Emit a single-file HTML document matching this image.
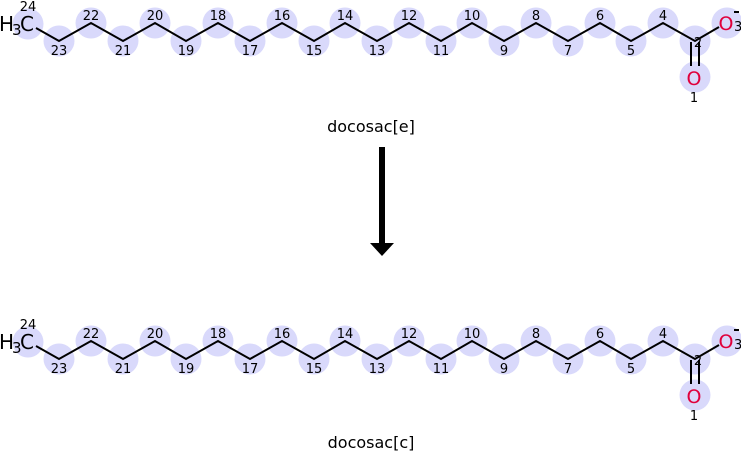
<!DOCTYPE html>
<html><head><meta charset="utf-8"><style>
html,body{margin:0;padding:0;background:#fff;width:741px;height:452px;overflow:hidden}
svg{display:block}
text{font-family:"DejaVu Sans","Liberation Sans",sans-serif}
.c{fill:#d9d9fb}
.n{font-size:13px;fill:#000;text-anchor:middle}
.b{stroke:#000;stroke-width:2;fill:none}
.o{fill:#e0003c;font-size:19px;text-anchor:middle}
</style></head><body>
<svg width="741" height="452" viewBox="0 0 741 452">
<g>
<g class="c">
<circle cx="28" cy="24" r="15.5"/><circle cx="59" cy="41" r="15.5"/><circle cx="91" cy="23" r="15.5"/><circle cx="123" cy="41" r="15.5"/><circle cx="155" cy="23" r="15.5"/><circle cx="186" cy="41" r="15.5"/><circle cx="218" cy="23" r="15.5"/><circle cx="250" cy="41" r="15.5"/><circle cx="282" cy="23" r="15.5"/><circle cx="314" cy="41" r="15.5"/><circle cx="345" cy="23" r="15.5"/><circle cx="377" cy="41" r="15.5"/><circle cx="409" cy="23" r="15.5"/><circle cx="441" cy="41" r="15.5"/><circle cx="472" cy="23" r="15.5"/><circle cx="504" cy="41" r="15.5"/><circle cx="536" cy="23" r="15.5"/><circle cx="568" cy="41" r="15.5"/><circle cx="600" cy="23" r="15.5"/><circle cx="631" cy="41" r="15.5"/><circle cx="663" cy="23" r="15.5"/><circle cx="695" cy="41" r="15.5"/><circle cx="727" cy="23" r="15.5"/><circle cx="695" cy="77" r="15.5"/>
</g>
<polyline class="b" points="36,28 59,41 91,23 123,41 155,23 186,41 218,23 250,41 282,23 314,41 345,23 377,41 409,23 441,41 472,23 504,41 536,23 568,41 600,23 631,41 663,23 695,41 719,27"/>
<line class="b" x1="691" y1="42" x2="691" y2="66"/><line class="b" x1="699" y1="42" x2="699" y2="66"/>
<text x="-1" y="31" font-size="20" fill="#000">H</text><text x="12" y="35" font-size="15" fill="#000">3</text><text x="20" y="31" font-size="20" fill="#000">C</text>
<text class="o" x="726" y="30">O</text><text x="734" y="31" font-size="13" fill="#000">3</text><rect x="734" y="11" width="5" height="2" fill="#000"/>
<text class="o" x="694" y="85">O</text>
<g class="n">
<text x="28" y="11">24</text><text x="59" y="55">23</text><text x="91" y="20">22</text><text x="123" y="55">21</text><text x="155" y="20">20</text><text x="186" y="55">19</text><text x="218" y="20">18</text><text x="250" y="55">17</text><text x="282" y="20">16</text><text x="314" y="55">15</text><text x="345" y="20">14</text><text x="377" y="55">13</text><text x="409" y="20">12</text><text x="441" y="55">11</text><text x="472" y="20">10</text><text x="504" y="55">9</text><text x="536" y="20">8</text><text x="568" y="55">7</text><text x="600" y="20">6</text><text x="631" y="55">5</text><text x="663" y="20">4</text><text x="698" y="47">2</text><text x="694" y="102">1</text>
</g>
</g>
<g transform="translate(0,318)">
<g class="c">
<circle cx="28" cy="24" r="15.5"/><circle cx="59" cy="41" r="15.5"/><circle cx="91" cy="23" r="15.5"/><circle cx="123" cy="41" r="15.5"/><circle cx="155" cy="23" r="15.5"/><circle cx="186" cy="41" r="15.5"/><circle cx="218" cy="23" r="15.5"/><circle cx="250" cy="41" r="15.5"/><circle cx="282" cy="23" r="15.5"/><circle cx="314" cy="41" r="15.5"/><circle cx="345" cy="23" r="15.5"/><circle cx="377" cy="41" r="15.5"/><circle cx="409" cy="23" r="15.5"/><circle cx="441" cy="41" r="15.5"/><circle cx="472" cy="23" r="15.5"/><circle cx="504" cy="41" r="15.5"/><circle cx="536" cy="23" r="15.5"/><circle cx="568" cy="41" r="15.5"/><circle cx="600" cy="23" r="15.5"/><circle cx="631" cy="41" r="15.5"/><circle cx="663" cy="23" r="15.5"/><circle cx="695" cy="41" r="15.5"/><circle cx="727" cy="23" r="15.5"/><circle cx="695" cy="77" r="15.5"/>
</g>
<polyline class="b" points="36,28 59,41 91,23 123,41 155,23 186,41 218,23 250,41 282,23 314,41 345,23 377,41 409,23 441,41 472,23 504,41 536,23 568,41 600,23 631,41 663,23 695,41 719,27"/>
<line class="b" x1="691" y1="42" x2="691" y2="66"/><line class="b" x1="699" y1="42" x2="699" y2="66"/>
<text x="-1" y="31" font-size="20" fill="#000">H</text><text x="12" y="35" font-size="15" fill="#000">3</text><text x="20" y="31" font-size="20" fill="#000">C</text>
<text class="o" x="726" y="30">O</text><text x="734" y="31" font-size="13" fill="#000">3</text><rect x="734" y="11" width="5" height="2" fill="#000"/>
<text class="o" x="694" y="85">O</text>
<g class="n">
<text x="28" y="11">24</text><text x="59" y="55">23</text><text x="91" y="20">22</text><text x="123" y="55">21</text><text x="155" y="20">20</text><text x="186" y="55">19</text><text x="218" y="20">18</text><text x="250" y="55">17</text><text x="282" y="20">16</text><text x="314" y="55">15</text><text x="345" y="20">14</text><text x="377" y="55">13</text><text x="409" y="20">12</text><text x="441" y="55">11</text><text x="472" y="20">10</text><text x="504" y="55">9</text><text x="536" y="20">8</text><text x="568" y="55">7</text><text x="600" y="20">6</text><text x="631" y="55">5</text><text x="663" y="20">4</text><text x="698" y="47">2</text><text x="694" y="102">1</text>
</g>
</g>
<text x="371" y="132" font-size="16" text-anchor="middle" fill="#000">docosac[e]</text>
<text x="371" y="448" font-size="16" text-anchor="middle" fill="#000">docosac[c]</text>
<rect x="379" y="147" width="6" height="97" fill="#000"/>
<polygon points="370,243 394,243 382,256" fill="#000"/>
</svg>
</body></html>
